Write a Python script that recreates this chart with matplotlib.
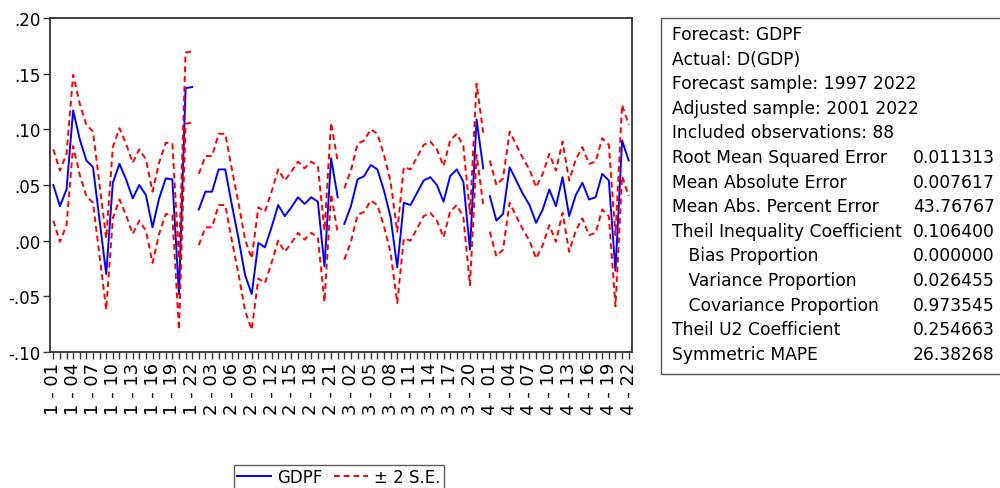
import matplotlib
matplotlib.use('Agg')
import matplotlib.pyplot as plt
from matplotlib.patches import Rectangle
from matplotlib.lines import Line2D
import numpy as np

plt.rcParams['font.family'] = ['DejaVu Sans']

# panel: 4 cross-sections, years 2001-2022
SECTIONS = ['1', '2', '3', '4']
YEARS = ['01', '02', '03', '04', '05', '06', '07', '08', '09', '10', '11',
         '12', '13', '14', '15', '16', '17', '18', '19', '20', '21', '22']

# forecast GDPF
GDPF_1 = [0.050, 0.031, 0.046, 0.117, 0.091, 0.072, 0.066, 0.018, -0.030, 0.052, 0.069,
          0.055, 0.038, 0.050, 0.041, 0.012, 0.038, 0.056, 0.055, -0.048, 0.137, 0.138]
GDPF_2 = [0.028, 0.044, 0.044, 0.064, 0.064, 0.032, 0.002, -0.031, -0.048, -0.002, -0.006,
          0.012, 0.032, 0.022, 0.030, 0.039, 0.033, 0.039, 0.035, -0.023, 0.074, 0.039]
GDPF_3 = [0.015, 0.031, 0.055, 0.058, 0.068, 0.064, 0.045, 0.021, -0.024, 0.034, 0.032,
          0.043, 0.054, 0.057, 0.050, 0.035, 0.058, 0.064, 0.053, -0.008, 0.109, 0.065]
GDPF_4 = [0.040, 0.018, 0.024, 0.066, 0.054, 0.042, 0.032, 0.016, 0.028, 0.046, 0.031,
          0.057, 0.022, 0.041, 0.052, 0.037, 0.039, 0.060, 0.054, -0.027, 0.090, 0.072]
TWO_SE = 0.032  # half width of the +/- 2 S.E. band

Y_TICKS = [-0.10, -0.05, 0.00, 0.05, 0.10, 0.15, 0.20]
Y_LABELS = ['-.10', '-.05', '.00', '.05', '.10', '.15', '.20']

HEADER = ['Forecast: GDPF', 'Actual: D(GDP)', 'Forecast sample: 1997 2022',
          'Adjusted sample: 2001 2022', 'Included observations: 88']
STAT_NAMES = ['Root Mean Squared Error', 'Mean Absolute Error', 'Mean Abs. Percent Error',
              'Theil Inequality Coefficient', '   Bias Proportion', '   Variance Proportion',
              '   Covariance Proportion', 'Theil U2 Coefficient', 'Symmetric MAPE']
STAT_VALUES = ['0.011313', '0.007617', '43.76767', '0.106400', '0.000000',
               '0.026455', '0.973545', '0.254663', '26.38268']

W, H = 1000, 489
fig = plt.figure(figsize=(10, 4.89), dpi=100)
ax = fig.add_axes([50 / W, 1 - 353 / H, 582 / W, 334 / H])

BLUE = '#0000ff'
RED = '#ff0000'
series = [GDPF_1, GDPF_2, GDPF_3, GDPF_4]
labels = []
pos = 0
for sec, vals in zip(SECTIONS, series):
    v = np.array(vals)
    x = np.arange(pos, pos + len(v))
    ax.plot(x, v, color=BLUE, lw=1.4)
    ax.plot(x, v + TWO_SE, color=RED, lw=1.4, dashes=(3, 2))
    ax.plot(x, v - TWO_SE, color=RED, lw=1.4, dashes=(3, 2))
    labels += [f'{sec} - {y}' for y in YEARS]
    pos += len(v)

n = len(labels)
ax.set_xlim(-0.5, n - 0.5)
ax.set_ylim(-0.10, 0.20)
ax.set_xticks(np.arange(n))
ax.set_xticklabels([lab if i % 3 == 0 else '' for i, lab in enumerate(labels)],
                   rotation=90, fontsize=13)
ax.set_yticks(Y_TICKS)
ax.set_yticklabels(Y_LABELS, fontsize=12)
ax.tick_params(direction='out', length=5, width=1, color='#333333', pad=2)
for s in ax.spines.values():
    s.set_color('#333333')
    s.set_linewidth(1.3)

# statistics box on the right
fig.patches.append(Rectangle((661 / W, 1 - 375 / H), 0.36, 356 / H, transform=fig.transFigure,
                             fill=False, edgecolor='#555555', lw=1))
rows = HEADER + STAT_NAMES
y0 = 35
for i, txt in enumerate(rows):
    yy = 1 - (y0 + 24.6 * i) / H
    fig.text(672 / W, yy, txt, fontsize=12.3, va='center', ha='left')
    if i >= len(HEADER):
        fig.text(913 / W, yy, STAT_VALUES[i - len(HEADER)], fontsize=12.3, va='center', ha='left')

handles = [Line2D([], [], color=BLUE, lw=1.4),
           Line2D([], [], color=RED, lw=1.4, dashes=(3, 2))]
leg = fig.legend(handles, ['GDPF', '± 2 S.E.'], loc='upper left', ncol=2,
                 bbox_to_anchor=(234 / W, 1 - 465.5 / H), borderaxespad=0,
                 fontsize=12, frameon=True, fancybox=False, edgecolor='#333333',
                 handlelength=2.0, handletextpad=0.4, columnspacing=0.7, borderpad=0.2)
leg.get_frame().set_linewidth(1)

fig.savefig('out.png', dpi=100)
